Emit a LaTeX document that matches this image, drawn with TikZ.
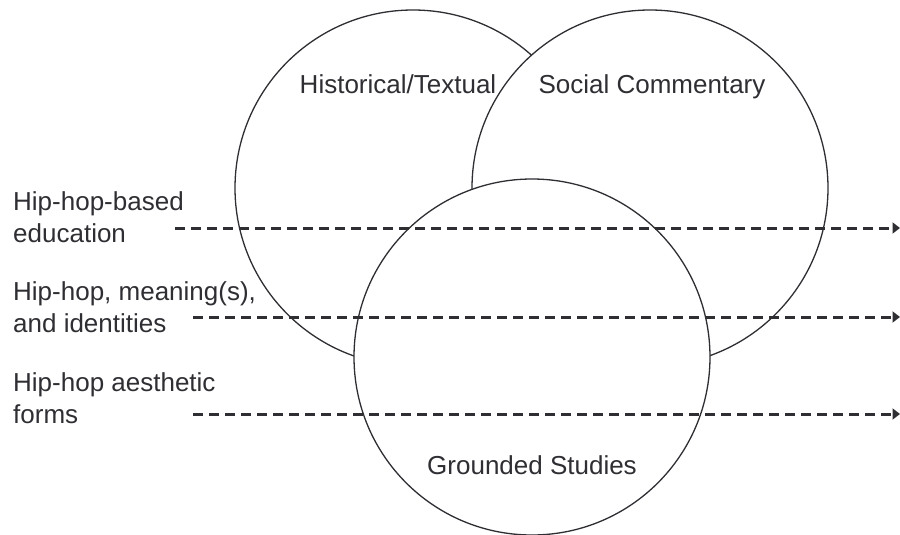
\documentclass[tikz,border=0pt]{standalone}
\usepackage{fontspec}
\setmainfont{Liberation Sans}
\usetikzlibrary{arrows.meta}
\definecolor{ink}{HTML}{2E2E33}
\begin{document}
\begin{tikzpicture}[x=1pt,y=-1pt,
  venn/.style={circle, draw=ink, line width=1.3pt, fill=white,
               minimum size=356pt, inner sep=0pt, outer sep=0pt},
  lbl/.style={text=ink, font=\fontsize{26}{32}\selectfont, inner sep=0pt},
  sidelbl/.style={lbl, align=left, anchor=north west},
  flow/.style={draw=ink, line width=3pt, dash pattern=on 10pt off 6pt,
               -{Triangle[length=7.5pt,width=11pt]}}]
\useasboundingbox (0,0) rectangle (900,535);

% three overlapping sets, later ones drawn over earlier ones
\node[venn] (hist)   at (413,188) {};
\node[venn] (soc)    at (650,188) {};
\node[venn] (ground) at (532,357) {};

% set names
\node[lbl, anchor=base] (histlbl)   at (398,94)  {Historical/Textual};
\node[lbl, anchor=base] (soclbl)    at (652,94)  {Social Commentary};
\node[lbl, anchor=base] (groundlbl) at (532,474) {Grounded Studies};

% strands of research
\node[sidelbl] (hhbe)  at (13,191) {Hip-hop-based\\education};
\node[sidelbl] (hhmi)  at (13,281) {Hip-hop, meaning(s),\\and identities};
\node[sidelbl] (hhaf)  at (13,372) {Hip-hop aesthetic\\forms};

% dashed strands running across the sets
\coordinate (hhbeA) at (175,228);
\coordinate (hhbeB) at (900,228);
\coordinate (hhmiA) at (193,317);
\coordinate (hhmiB) at (900,317);
\coordinate (hhafA) at (193,414);
\coordinate (hhafB) at (900,414);
\draw[flow] (hhbeA) -- (hhbeB);
\draw[flow] (hhmiA) -- (hhmiB);
\draw[flow] (hhafA) -- (hhafB);
\end{tikzpicture}
\end{document}
